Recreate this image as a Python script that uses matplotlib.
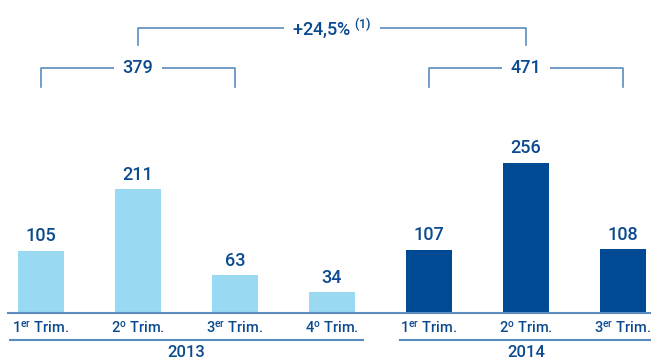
import matplotlib.pyplot as plt

plt.rcParams['font.family'] = ['Roboto', 'DejaVu Sans']
plt.rcParams['font.weight'] = 'medium'
plt.rcParams['mathtext.fontset'] = 'custom'
plt.rcParams['mathtext.rm'] = 'Roboto:medium'
plt.rcParams['mathtext.default'] = 'regular'

quarters = ['1$^{er}$ Trim.', '2$^{o}$ Trim.', '3$^{er}$ Trim.', '4$^{o}$ Trim.',
            '1$^{er}$ Trim.', '2$^{o}$ Trim.', '3$^{er}$ Trim.']
values = [105, 211, 63, 34, 107, 256, 108]
years = ['2013', '2014']
totals = [379, 471]
growth = '+24,5%'

light = '#9ad9f2'
dark = '#004a93'
txt = '#0b4a8f'
line_c = '#5a8cbf'

fig = plt.figure(figsize=(6.51, 3.6), dpi=100)
ax = fig.add_axes([0, 0, 1, 1])
ax.set_xlim(-0.423, 6.289)
ax.set_ylim(-82.5, 536)
ax.axis('off')

x = list(range(len(values)))
colors = [light] * 4 + [dark] * 3
ax.bar(x, values, width=0.474, color=colors)
for xi, v in zip(x, values):
    ax.annotate(str(v), (xi, v), xytext=(0, 4), textcoords='offset points',
                ha='center', va='bottom', fontsize=13, color=txt)

# baseline and group lines
ax.plot([-0.34, 6.29], [-2, -2], color=line_c, lw=1.5, clip_on=False)
ax.plot([-0.32, 3.32], [-48, -48], color=line_c, lw=1.5)
ax.plot([3.70, 6.29], [-48, -48], color=line_c, lw=1.5, clip_on=False)

for xi, q in zip(x, quarters):
    ax.text(xi, -27, q, ha='center', va='center', fontsize=10.5, color=txt)
ax.text(1.5, -70, years[0], ha='center', va='center', fontsize=12, color=txt)
ax.text(5.0, -70, years[1], ha='center', va='center', fontsize=12, color=txt)


def bracket(x0, x1, y, drop, label, fs):
    ax.plot([x0, x0, x1, x1], [y - drop, y, y, y - drop], color=line_c, lw=1.2)
    ax.text((x0 + x1) / 2, y, label, ha='center', va='center', fontsize=fs,
            color=txt, bbox=dict(facecolor='white', edgecolor='none', pad=6))


bracket(0, 2, 419, 33, str(totals[0]), 13)
bracket(4, 6, 419, 33, str(totals[1]), 13)
bracket(1, 5, 488, 30, growth + r'$^{\ (1)}$', 13)

fig.savefig('out.png', dpi=100)
